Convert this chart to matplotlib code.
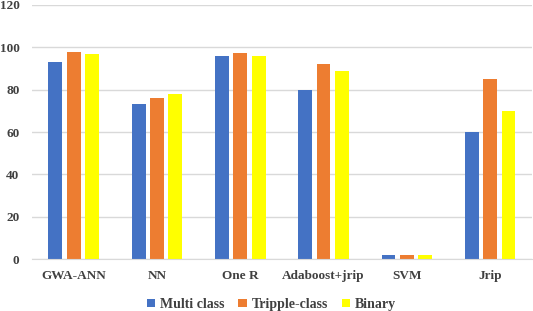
import matplotlib
matplotlib.use("Agg")
import matplotlib.pyplot as plt
import numpy as np

categories = ["GWA-ANN", "NN", "One R", "Adaboost+jrip", "SVM", "Jrip"]
series_names = ["Multi class", "Tripple-class", "Binary"]
multi_class = [93, 73, 96, 80, 2, 60]
tripple_class = [98, 76, 97.5, 92, 2, 85]
binary = [97, 78, 96, 89, 2, 70]
colors = ["#4472C4", "#ED7D31", "#FFFF00"]
yticks = [0, 20, 40, 60, 80, 100, 120]

plt.rcParams['font.family'] = ['Liberation Serif', 'DejaVu Serif']
plt.rcParams['font.weight'] = 'bold'

fig = plt.figure(figsize=(5.33, 3.11), dpi=100)
ax = fig.add_axes([0.060, 0.167, 0.938, 0.817])

x = np.arange(len(categories))
w = 0.165
step = 0.22
for i, (vals, name, c) in enumerate(zip([multi_class, tripple_class, binary], series_names, colors)):
    ax.bar(x + (i - 1) * step, vals, width=w, color=c, label=name, zorder=3)

ax.set_xlim(-0.5, len(categories) - 0.5)
ax.set_ylim(0, 120)
ax.set_yticks(yticks)
ax.set_xticks(x)
ax.set_xticklabels(categories, fontsize=9.5, fontweight='bold', color='#404040')
ax.tick_params(axis='y', labelsize=9.5, labelcolor='#404040', length=0, pad=9)
ax.tick_params(axis='x', length=0, pad=8)
ax.grid(axis='y', color='#d9d9d9', linewidth=1, zorder=0)
for s in ['top', 'right', 'left']:
    ax.spines[s].set_visible(False)
ax.spines['bottom'].set_color('#d9d9d9')
ax.spines['bottom'].set_zorder(4)

leg = fig.legend(loc='lower center', bbox_to_anchor=(0.509, -0.04), ncol=3, frameon=False,
                 prop={'size': 10, 'weight': 'bold'}, handlelength=0.6, handleheight=0.6,
                 handletextpad=0.35, columnspacing=1.0)
for t in leg.get_texts():
    t.set_color('#404040')

fig.savefig("out.png", dpi=100)
